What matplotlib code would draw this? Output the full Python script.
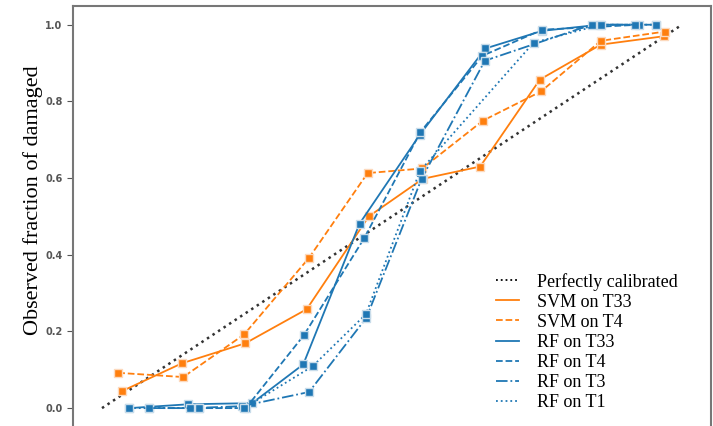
import matplotlib
matplotlib.use("Agg")
import matplotlib.pyplot as plt
from matplotlib.lines import Line2D

# calibration curves (mean predicted prob, observed fraction)
perfect_x = [0, 1]
perfect_y = [0, 1]

svm_t33_x = [0.034, 0.138, 0.247, 0.353, 0.460, 0.553, 0.652, 0.755, 0.860, 0.969]
svm_t33_y = [0.044, 0.117, 0.169, 0.258, 0.500, 0.598, 0.630, 0.857, 0.948, 0.970]

svm_t4_x = [0.028, 0.140, 0.245, 0.357, 0.458, 0.552, 0.657, 0.757, 0.860, 0.970]
svm_t4_y = [0.092, 0.081, 0.192, 0.392, 0.613, 0.625, 0.750, 0.826, 0.958, 0.982]

rf_t33_x = [0.047, 0.149, 0.259, 0.347, 0.444, 0.548, 0.661, 0.759, 0.858, 0.956]
rf_t33_y = [0.000, 0.010, 0.013, 0.114, 0.481, 0.713, 0.938, 0.984, 1.000, 1.000]

rf_t4_x = [0.081, 0.167, 0.248, 0.348, 0.452, 0.549, 0.656, 0.759, 0.926]
rf_t4_y = [0.000, 0.000, 0.000, 0.190, 0.443, 0.720, 0.919, 0.987, 1.000]

rf_t3_x = [0.081, 0.152, 0.241, 0.357, 0.456, 0.551, 0.660, 0.844, 0.919]
rf_t3_y = [0.000, 0.000, 0.005, 0.042, 0.236, 0.598, 0.906, 1.000, 1.000]

rf_t1_x = [0.047, 0.167, 0.245, 0.363, 0.455, 0.548, 0.744, 0.860, 0.956]
rf_t1_y = [0.000, 0.000, 0.000, 0.109, 0.245, 0.618, 0.953, 1.000, 1.000]

orange = "#ff7f0e"
blue = "#1f77b4"

fig = plt.figure(figsize=(7.13, 4.26), dpi=100)
ax = fig.add_axes([73 / 713, -0.003, 638 / 713, 0.990])

ax.plot(perfect_x, perfect_y, ":", color="#333333", lw=1.8)

series = [
    (svm_t33_x, svm_t33_y, "-", orange, "#fcd9bd", "SVM on T33"),
    (svm_t4_x, svm_t4_y, "--", orange, "#fcd9bd", "SVM on T4"),
    (rf_t33_x, rf_t33_y, "-", blue, "#c8dcea", "RF on T33"),
    (rf_t4_x, rf_t4_y, "--", blue, "#c8dcea", "RF on T4"),
    (rf_t3_x, rf_t3_y, "-.", blue, "#c8dcea", "RF on T3"),
    (rf_t1_x, rf_t1_y, ":", blue, "#c8dcea", "RF on T1"),
]
handles = [Line2D([], [], ls=":", color="black", lw=1.3, label="Perfectly calibrated")]
for x, y, ls, c, ec, lab in series:
    ax.plot(x, y, ls, color=c, lw=1.3, marker="s", markersize=6, mec=ec, mew=1)
    handles.append(Line2D([], [], ls=ls, color=c, lw=1.3, label=lab))

ax.set_xlim(-0.05, 1.05)
ax.set_ylim(-0.05, 1.05)
ax.set_yticks([0.0, 0.2, 0.4, 0.6, 0.8, 1.0])
ax.set_yticklabels(["0.0", "0.2", "0.4", "0.6", "0.8", "1.0"], fontsize=7, fontweight="bold", color="#333333")
ax.tick_params(axis="y", colors="#555555", length=4)
ax.tick_params(axis="x", bottom=False, labelbottom=False)
for s in ax.spines.values():
    s.set_color("#777777")
    s.set_linewidth(1.5)

ax.set_ylabel("Observed fraction of damaged", family="Liberation Serif", fontsize=16)
ax.yaxis.set_label_coords(-0.047, 0.539)

ax.legend(handles=handles, loc="lower right", frameon=False,
          prop={"family": "Liberation Serif", "size": 13},
          handlelength=1.3, handletextpad=1.0, labelspacing=0.17,
          bbox_to_anchor=(0.974, 0.0))

fig.savefig("out.png", dpi=100)
